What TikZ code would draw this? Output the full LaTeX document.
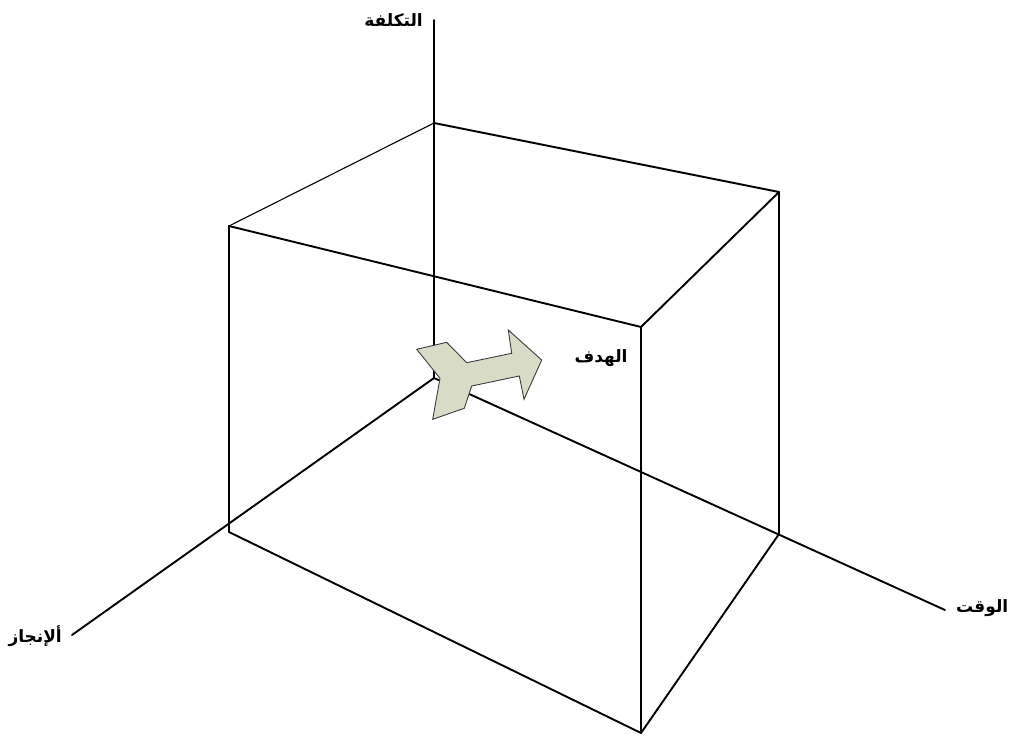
\documentclass[tikz,border=0pt]{standalone}
\usepackage{fontspec}
\newfontfamily\arabicfont[Script=Arabic]{DejaVu Sans}
\TeXXeTstate=1
\definecolor{arrowfill}{RGB}{216,220,198}
\definecolor{arrowline}{RGB}{60,60,60}
\tikzset{
  edge/.style={line width=1.9pt, line cap=round, line join=round},
  thinedge/.style={line width=1.1pt, line cap=round},
  lbl/.style={font=\arabicfont\bfseries\fontsize{17}{20}\selectfont, inner sep=0pt},
  goal/.style={fill=arrowfill, draw=arrowline, line width=0.9pt, line join=miter}
}
\begin{document}
\begin{tikzpicture}[x=1pt,y=-1pt]
\useasboundingbox (0,0) rectangle (1013,736);
% axis ends and origin
\coordinate (O) at (434,378);
\coordinate (Ctop) at (434,20);
\coordinate (Tend) at (945,610);
\coordinate (Aend) at (72,635);
% box corners
\coordinate (TB) at (434,123);
\coordinate (TR) at (779,192);
\coordinate (TL) at (229,226);
\coordinate (TF) at (641,327);
\coordinate (BL) at (229,532);
\coordinate (BR) at (779,534);
\coordinate (BF) at (641,733);
% axes
\draw[edge] (Ctop) -- (O);
\draw[edge] (O) -- (Tend);
\draw[edge] (O) -- (Aend);
% box
\draw[thinedge] (TL) -- (TB);
\draw[edge] (TB) -- (TR) -- (TF) -- (TL) -- (BL) -- (BF) -- (BR) -- (TR);
\draw[edge] (TF) -- (BF);
% goal arrow
\draw[goal] (416.7,349.3) -- (446.7,342.3) -- (466.7,362.7) -- (511.7,353.3)
  -- (508.3,330) -- (541.7,360) -- (524,399.3) -- (519.3,376) -- (471.7,386)
  -- (464.3,408.3) -- (432.7,419.3) -- (440,378.3) -- cycle;
% labels
\node[lbl, anchor=east] (cost) at (423,20) {\beginR التكلفة\endR};
\node[lbl, anchor=west] (time) at (956,608) {\beginR الوقت\endR};
\node[lbl, anchor=east] (ach) at (62,636) {\beginR ألإنجاز\endR};
\node[lbl] (goalt) at (601,358) {\beginR الهدف\endR};
\end{tikzpicture}
\end{document}
